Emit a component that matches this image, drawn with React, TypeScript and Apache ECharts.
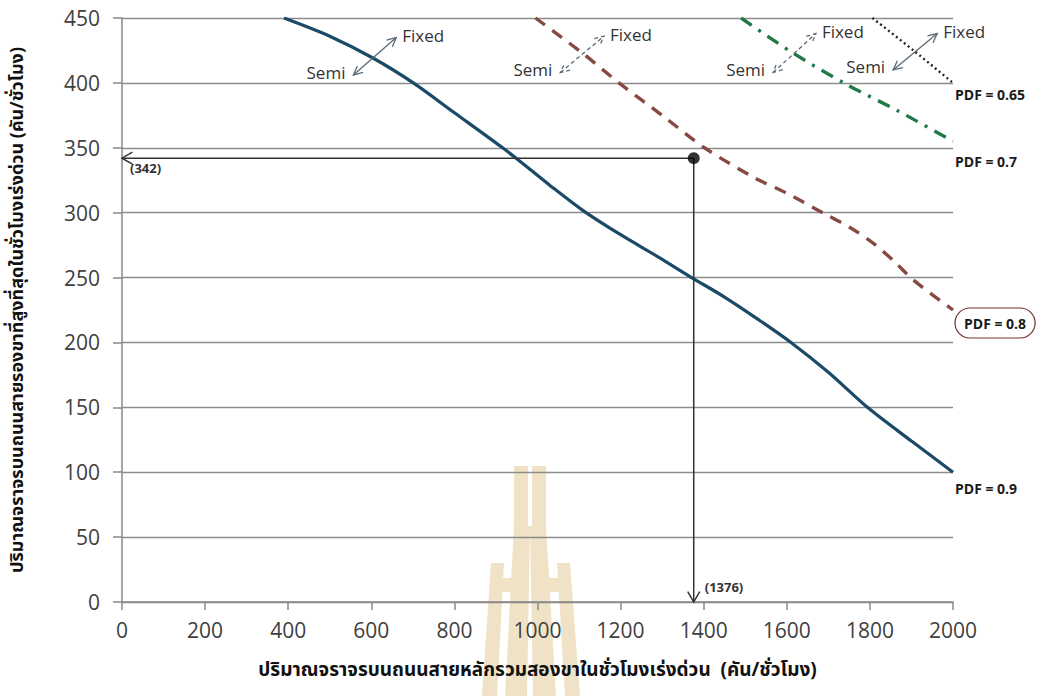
import React, { useEffect, useRef } from "react";
import * as echarts from "echarts";

// ---- data ----
const xMin = 0;
const xMax = 2000;
const xStep = 200;
const yMin = 0;
const yMax = 450;
const yStep = 50;

const seriesNames = ["PDF = 0.9", "PDF = 0.8", "PDF = 0.7", "PDF = 0.65"];

const pdf090 = [
  [390, 450], [500, 436], [605, 419], [701, 400], [800, 377], [916, 350],
  [960, 339], [1030, 321], [1108, 302], [1200, 283], [1290, 266], [1371, 250],
  [1450, 235], [1530, 218], [1610, 200], [1700, 177], [1794, 150], [1900, 124],
  [2000, 100],
];
const pdf080 = [
  [995, 450], [1108, 423], [1196, 400], [1300, 375], [1402, 350], [1522, 327],
  [1600, 315], [1686, 300], [1750, 289], [1810, 276], [1860, 262], [1905, 248],
  [2000, 225],
];
const pdf070 = [[1490, 450], [1610, 424], [1737, 400], [1870, 378], [2000, 355]];
const pdf065 = [[1806, 450], [1905, 425], [2000, 400]];

// double arrows: [x1, y1, x2, y2] in data units (Semi end -> Fixed end)
const bandArrows = [
  [557, 406, 660, 435],
  [1055, 408, 1160, 436],
  [1567, 408, 1670, 438],
  [1856, 410, 1962, 438],
];
const bandArrowLabels = [
  ["Semi", "Fixed"],
  ["Semi", "Fixed"],
  ["Semi", "Fixed"],
  ["Semi", "Fixed"],
];

const readPoint = [1376, 342];
const readLabels = ["(342)", "(1376)"];

const xTitle = "ปริมาณจราจรบนถนนสายหลักรวมสองขาในชั่วโมงเร่งด่วน  (คัน/ชั่วโมง)";
const yTitle = "ปริมาณจราจรบนถนนสายรองขาที่สูงที่สุดในชั่วโมงเร่งด่วน (คัน/ชั่วโมง)";

// ---- styles ----
const bandArrowDashed = [false, true, true, false];
const arrowColor = "#5b6874";
const thaiFont = "'Noto Sans Thai', 'Noto Serif Thai', 'Noto Sans', sans-serif";
const latinFont = "'Open Sans', 'Noto Sans', sans-serif";

function vHead(tip: number[], from: number[], len = 10, ang = Math.PI / 7) {
  const a = Math.atan2(from[1] - tip[1], from[0] - tip[0]);
  return [
    [tip[0] + len * Math.cos(a + ang), tip[1] + len * Math.sin(a + ang)],
    [tip[0], tip[1]],
    [tip[0] + len * Math.cos(a - ang), tip[1] + len * Math.sin(a - ang)],
  ];
}

const wm = "#f0e2c6";

export default function App() {
  const ref = useRef<HTMLDivElement>(null);

  useEffect(() => {
    if (!ref.current) return;
    const chart = echarts.init(ref.current, null, { renderer: "svg" });

    const guideArrows = [
      [readPoint[0], readPoint[1], xMin, readPoint[1]],
      [readPoint[0], readPoint[1], readPoint[0], yMin],
    ];

    const endLabelBase = {
      show: true,
      color: "#1a1a1a",
      fontWeight: "bold" as const,
      fontSize: 14,
      fontFamily: latinFont,
      distance: 2,
    };

    const option: any = {
      animation: false,
      backgroundColor: "#ffffff",
      grid: { left: 117, right: 86, top: 18, bottom: 94, containLabel: false },
      graphic: [
        { type: "rect", z: -10, shape: { x: 514, y: 466, width: 14, height: 62 }, style: { fill: wm } },
        { type: "rect", z: -10, shape: { x: 532, y: 466, width: 14, height: 62 }, style: { fill: wm } },
        { type: "polygon", z: -10, shape: { points: [[514, 526], [530, 526], [527, 696], [505, 696]] }, style: { fill: wm } },
        { type: "polygon", z: -10, shape: { points: [[530, 526], [546, 526], [556, 696], [533, 696]] }, style: { fill: wm } },
        { type: "polygon", z: -10, shape: { points: [[491, 563], [504, 563], [497, 696], [482, 696]] }, style: { fill: wm } },
        { type: "polygon", z: -10, shape: { points: [[557, 563], [570, 563], [580, 696], [565, 696]] }, style: { fill: wm } },
        { type: "rect", z: -10, shape: { x: 502, y: 578, width: 12, height: 14 }, style: { fill: wm } },
        { type: "rect", z: -10, shape: { x: 547, y: 578, width: 12, height: 14 }, style: { fill: wm } },
      ],
      xAxis: {
        type: "value",
        min: xMin,
        max: xMax,
        interval: xStep,
        name: xTitle,
        nameLocation: "middle",
        nameGap: 59,
        nameTextStyle: { fontSize: 19, fontWeight: "bold", color: "#111", fontFamily: thaiFont },
        axisLine: { show: true, lineStyle: { color: "#888", width: 1.5 } },
        axisTick: { show: true, length: 8, lineStyle: { color: "#888", width: 1.5 } },
        axisLabel: {
          fontSize: 21,
          color: "#404040",
          fontFamily: latinFont,
          margin: 17,
          formatter: (v: number) => String(v),
        },
        splitLine: { show: false },
      },
      yAxis: {
        type: "value",
        min: yMin,
        max: yMax,
        interval: yStep,
        name: yTitle,
        nameLocation: "middle",
        nameRotate: 90,
        nameGap: 96,
        nameTextStyle: { fontSize: 18, fontWeight: "bold", color: "#111", fontFamily: thaiFont },
        axisLine: { show: true, lineStyle: { color: "#888", width: 1.5 } },
        axisTick: { show: true, length: 9, lineStyle: { color: "#888", width: 1.5 } },
        axisLabel: {
          fontSize: 21,
          color: "#404040",
          fontFamily: latinFont,
          margin: 22,
          formatter: (v: number) => String(v),
        },
        splitLine: { show: true, lineStyle: { color: "#8c8c8c", width: 1.4 } },
      },
      series: [
        {
          type: "line",
          name: seriesNames[0],
          data: pdf090,
          smooth: 0.3,
          symbol: "none",
          lineStyle: { color: "#1b4a68", width: 3.2 },
          endLabel: { ...endLabelBase, formatter: seriesNames[0], offset: [0, 16] },
          z: 3,
        },
        {
          type: "line",
          name: seriesNames[1],
          data: pdf080,
          smooth: 0.3,
          symbol: "none",
          lineStyle: { color: "#864a43", width: 3.4, type: [12, 9] },
          endLabel: {
            ...endLabelBase,
            formatter: seriesNames[1],
            distance: 0,
            offset: [2, 13],
            borderColor: "#6e3530",
            borderWidth: 1.2,
            borderRadius: 20,
            padding: [8, 9],
          },
          z: 3,
        },
        {
          type: "line",
          name: seriesNames[2],
          data: pdf070,
          smooth: 0.3,
          symbol: "none",
          lineStyle: { color: "#1f7a48", width: 3.4, type: [13, 8, 3, 8] },
          endLabel: { ...endLabelBase, formatter: seriesNames[2], offset: [0, 20] },
          z: 3,
        },
        {
          type: "line",
          name: seriesNames[3],
          data: pdf065,
          smooth: 0.3,
          symbol: "none",
          lineStyle: { color: "#222", width: 2.4, type: [2, 3] },
          endLabel: { ...endLabelBase, formatter: seriesNames[3], offset: [0, 12] },
          z: 3,
        },
        {
          type: "custom",
          name: "bands",
          data: bandArrows,
          encode: { x: [0, 2], y: [1, 3] },
          z: 4,
          renderItem: (params: any, api: any) => {
            const i = params.dataIndex;
            const p1 = api.coord([api.value(0), api.value(1)]);
            const p2 = api.coord([api.value(2), api.value(3)]);
            const style = {
              stroke: arrowColor,
              lineWidth: 1.3,
              lineDash: bandArrowDashed[i] ? [4, 3] : null,
              fill: null,
            };
            const txt = { fontSize: 17, fontFamily: latinFont, fill: "#333" };
            return {
              type: "group",
              children: [
                { type: "line", shape: { x1: p1[0], y1: p1[1], x2: p2[0], y2: p2[1] }, style },
                { type: "polyline", shape: { points: vHead(p1, p2) }, style },
                { type: "polyline", shape: { points: vHead(p2, p1) }, style },
                {
                  type: "text",
                  x: p1[0] - 8,
                  y: p1[1] - 3,
                  style: { ...txt, text: bandArrowLabels[i][0], align: "right", verticalAlign: "middle" },
                },
                {
                  type: "text",
                  x: p2[0] + 6,
                  y: p2[1] - 2,
                  style: { ...txt, text: bandArrowLabels[i][1], align: "left", verticalAlign: "middle" },
                },
              ],
            };
          },
        },
        {
          type: "custom",
          name: "guides",
          data: guideArrows,
          encode: { x: [0, 2], y: [1, 3] },
          z: 4,
          renderItem: (params: any, api: any) => {
            const i = params.dataIndex;
            const p1 = api.coord([api.value(0), api.value(1)]);
            const p2 = api.coord([api.value(2), api.value(3)]);
            const style = { stroke: "#333", lineWidth: 1.5, fill: null };
            const horizontal = i === 0;
            return {
              type: "group",
              children: [
                { type: "line", shape: { x1: p1[0], y1: p1[1], x2: p2[0], y2: p2[1] }, style },
                { type: "polyline", shape: { points: vHead(p2, p1, 12, Math.PI / 6) }, style },
                {
                  type: "text",
                  x: horizontal ? p2[0] + 8 : p2[0] + 11,
                  y: horizontal ? p2[1] + 10 : p2[1] - 15,
                  style: {
                    text: readLabels[i],
                    fontSize: 13,
                    fontWeight: "bold",
                    fontFamily: latinFont,
                    fill: "#333",
                    align: "left",
                    verticalAlign: "middle",
                  },
                },
              ],
            };
          },
        },
        {
          type: "scatter",
          name: "read",
          data: [readPoint],
          symbolSize: 12,
          itemStyle: { color: "#000" },
          z: 5,
        },
      ],
    };

    chart.setOption(option);
    return () => chart.dispose();
  }, []);

  return (
    <div
      ref={ref}
      style={{ position: "absolute", left: 0, top: 0, width: 1039, height: 696 }}
    />
  );
}
